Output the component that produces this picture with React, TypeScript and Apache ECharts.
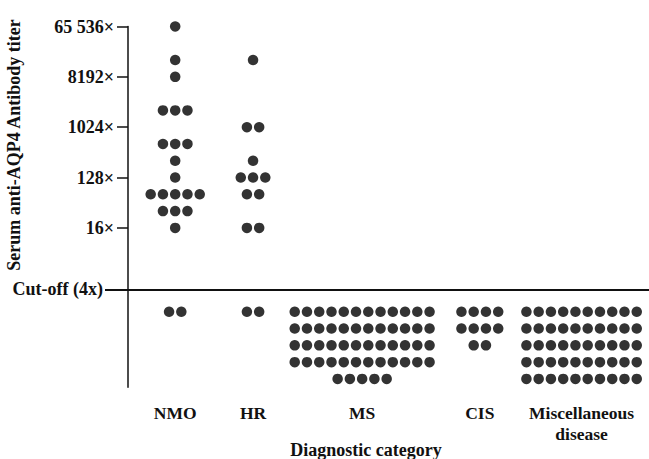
import React, { useEffect, useRef } from "react";
import * as echarts from "echarts";

// ---- data ----
const categories = ["NMO", "HR", "MS", "CIS", "Miscellaneous\ndisease"];
const titerLevels = [65536, 16384, 8192, 2048, 1024, 512, 256, 128, 64, 32, 16];
const nmoCounts = [1, 1, 1, 3, 0, 3, 1, 1, 5, 3, 1];
const hrCounts = [0, 1, 0, 0, 2, 0, 1, 3, 2, 0, 2];
const negativeCounts = [2, 2, 53, 10, 50];
const negativeRowSizes = [2, 2, 12, 4, 10];
const tickTiters = [16, 128, 1024, 8192, 65536];
const tickLabels = ["16×", "128×", "1024×", "8192×", "65 536×"];
const cutoffLabel = "Cut-off (4x)";
const yTitle = "Serum anti-AQP4 Antibody titer";
const xTitle = "Diagnostic category";

// ---- layout (axis units: x = dot columns, y = log2 titer) ----
const categoryCenters = [3.85, 10.2, 19.1, 28.7, 37.0];
const cutoffLevel = 0.34;
const FONT = "'Liberation Serif', 'Times New Roman', serif";

function buildPoints(): number[][] {
  const positive: (number[] | null)[] = [nmoCounts, hrCounts, null, null, null];
  const pts: number[][] = [];
  categories.forEach((_, ci) => {
    const c = categoryCenters[ci];
    const pc = positive[ci];
    if (pc) {
      pc.forEach((n, li) => {
        const y = Math.log2(titerLevels[li]);
        for (let i = 0; i < n; i++) pts.push([c + i - (n - 1) / 2, y]);
      });
    }
    let remaining = negativeCounts[ci];
    let row = 0;
    while (remaining > 0) {
      const n = Math.min(remaining, negativeRowSizes[ci]);
      for (let i = 0; i < n; i++) pts.push([c + i - (n - 1) / 2, -1 - row]);
      remaining -= n;
      row++;
    }
  });
  return pts;
}

export default function App() {
  const ref = useRef<HTMLDivElement>(null);
  useEffect(() => {
    if (!ref.current) return;
    const chart = echarts.init(ref.current, undefined, { renderer: "svg" });
    const tickVals = tickTiters.map((t) => Math.log2(t));
    const labelStyle = {
      fontFamily: FONT,
      fontWeight: "bold" as const,
      fontSize: 18,
      color: "#111",
    };
    chart.setOption({
      animation: false,
      backgroundColor: "#fff",
      grid: {
        left: 128,
        right: 0,
        top: 26.5,
        bottom: 71.7,
        containLabel: false,
        outerBoundsMode: "none",
      },
      xAxis: {
        type: "value",
        min: 0,
        max: 42.5,
        axisLine: { show: false },
        axisTick: { show: false },
        splitLine: { show: false },
        axisLabel: {
          ...labelStyle,
          fontSize: 17.5,
          customValues: categoryCenters,
          margin: 15,
          lineHeight: 21,
          align: "center",
          formatter: (v: number) => {
            const i = categoryCenters.findIndex((c) => Math.abs(c - v) < 1e-6);
            return i >= 0 ? categories[i] : "";
          },
        },
      },
      yAxis: [
        {
          type: "value",
          min: -5.5,
          max: 16,
          position: "left",
          axisLine: { show: true, onZero: false, lineStyle: { color: "#111", width: 1.5 } },
          axisTick: {
            show: true,
            customValues: tickVals,
            length: 11,
            lineStyle: { color: "#111", width: 1.5 },
          },
          axisLabel: {
            ...labelStyle,
            customValues: tickVals,
            margin: 14,
            formatter: (v: number) => {
              const i = tickVals.findIndex((t) => Math.abs(t - v) < 1e-6);
              return i >= 0 ? tickLabels[i] : "";
            },
          },
          splitLine: { show: false },
        },
        {
          type: "value",
          min: -5.5,
          max: 16,
          position: "left",
          offset: 0,
          axisLine: { show: false },
          axisTick: {
            show: true,
            customValues: [cutoffLevel],
            length: 23,
            lineStyle: { color: "#111", width: 2 },
          },
          axisLabel: {
            ...labelStyle,
            customValues: [cutoffLevel],
            margin: 25,
            formatter: () => cutoffLabel,
          },
          splitLine: { show: false },
        },
      ],
      graphic: [
        {
          type: "text",
          x: 14,
          y: 145,
          rotation: Math.PI / 2,
          style: {
            text: yTitle,
            fontFamily: FONT,
            fontWeight: "bold",
            fontSize: 18,
            fill: "#111",
            textAlign: "center",
            textVerticalAlign: "middle",
          },
        },
        {
          type: "text",
          x: 366,
          y: 450,
          style: {
            text: xTitle,
            fontFamily: FONT,
            fontWeight: "bold",
            fontSize: 18,
            fill: "#111",
            textAlign: "center",
            textVerticalAlign: "middle",
          },
        },
      ],
      series: [
        {
          type: "scatter",
          data: buildPoints(),
          symbol: "circle",
          symbolSize: 10.5,
          itemStyle: { color: "#000" },
          silent: true,
          markLine: {
            silent: true,
            symbol: "none",
            label: { show: false },
            lineStyle: { color: "#111", width: 2, type: "solid" },
            data: [{ yAxis: cutoffLevel }],
          },
        },
      ],
    });
    return () => chart.dispose();
  }, []);
  return (
    <div
      ref={ref}
      style={{ position: "absolute", left: 0, top: 0, width: 649, height: 459 }}
    />
  );
}
